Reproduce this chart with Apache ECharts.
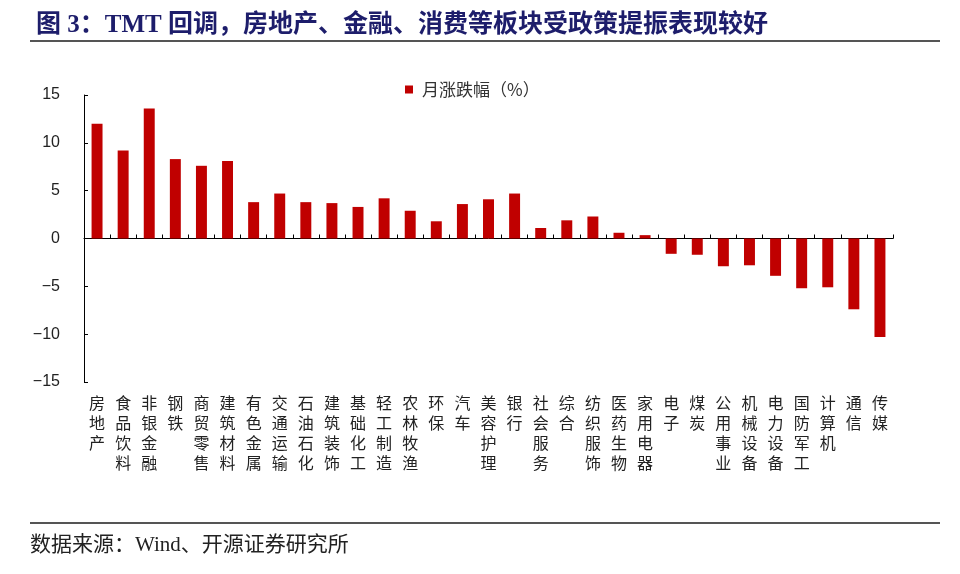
<!DOCTYPE html>
<html>
<head>
<meta charset="utf-8">
<script src="https://cdn.jsdelivr.net/npm/echarts@6/dist/echarts.min.js"></script>
<style>
  html, body { margin: 0; padding: 0; background: #fff; }
  #main { width: 960px; height: 574px; }
</style>
</head>
<body>
<div id="main"></div>
<script>
// 行业名称
var industries = [
  "房地产", "食品饮料", "非银金融", "钢铁", "商贸零售", "建筑材料", "有色金属",
  "交通运输", "石油石化", "建筑装饰", "基础化工", "轻工制造", "农林牧渔", "环保",
  "汽车", "美容护理", "银行", "社会服务", "综合", "纺织服饰", "医药生物",
  "家用电器", "电子", "煤炭", "公用事业", "机械设备", "电力设备", "国防军工",
  "计算机", "通信", "传媒"
];
// 月涨跌幅（%）
var monthChange = [
  12.0, 9.2, 13.6, 8.3, 7.6, 8.1, 3.8,
  4.7, 3.8, 3.7, 3.3, 4.2, 2.9, 1.8,
  3.6, 4.1, 4.7, 1.1, 1.9, 2.3, 0.6,
  0.35, -1.6, -1.7, -2.9, -2.8, -3.9, -5.2,
  -5.1, -7.4, -10.3
];
var yTicks = { min: -15, max: 15, step: 5 };

var chart = echarts.init(document.getElementById("main"));

var option = {
  backgroundColor: "#fff",
  animation: false,
  title: {
    text: "图 3：TMT 回调，房地产、金融、消费等板块受政策提振表现较好",
    left: 31,
    top: 8,
    textStyle: {
      fontFamily: "'Liberation Serif', 'Noto Sans CJK SC', serif",
      fontSize: 25,
      fontWeight: "bold",
      color: "#1d1d6b"
    }
  },
  legend: {
    data: ["月涨跌幅（%）"],
    left: 400,
    top: 76,
    itemWidth: 8,
    itemHeight: 8,
    icon: "rect",
    itemGap: 10,
    textStyle: {
      fontFamily: "'Noto Sans CJK SC', sans-serif",
      fontSize: 17,
      padding: [0, 0, 0, 4],
      color: "#333"
    }
  },
  grid: {
    left: 84,
    right: 67,
    top: 95,
    bottom: 192,
    containLabel: false
  },
  xAxis: [
    {
      // 零轴线 + 刻度
      type: "category",
      data: industries,
      position: "top",
      axisLine: { show: true, onZero: true, lineStyle: { color: "#000", width: 1 } },
      axisTick: { show: true, interval: 0, inside: false, length: 4, lineStyle: { color: "#000" } },
      axisLabel: { show: false, interval: 0 }
    },
    {
      // 底部行业标签
      type: "category",
      data: industries,
      position: "bottom",
      axisLine: { show: false, onZero: false },
      axisTick: { show: false },
      axisLabel: {
        show: true,
        interval: 0,
        margin: 11,
        lineHeight: 20,
        fontFamily: "'Noto Sans CJK SC', serif",
        fontSize: 16,
        color: "#222",
        verticalAlign: "top",
        formatter: function (v) { return v.split("").join("\n"); }
      }
    }
  ],
  yAxis: {
    type: "value",
    min: yTicks.min,
    max: yTicks.max,
    interval: yTicks.step,
    axisLine: { show: true, lineStyle: { color: "#000", width: 1 } },
    axisTick: { show: true, inside: true, length: 4, lineStyle: { color: "#000" } },
    splitLine: { show: false },
    axisLabel: {
      margin: 24,
      fontFamily: "'Liberation Sans', Arial, sans-serif",
      fontSize: 16,
      color: "#222",
      formatter: function (v) { return String(v).replace("-", "\u2212"); }
    }
  },
  series: [
    {
      name: "月涨跌幅（%）",
      type: "bar",
      xAxisIndex: 0,
      data: monthChange,
      barWidth: "42%",
      itemStyle: { color: "#c00000" }
    }
  ],
  graphic: [
    {
      type: "line",
      shape: { x1: 30, y1: 41, x2: 940, y2: 41 },
      style: { stroke: "#555", lineWidth: 2 }
    },
    {
      type: "line",
      shape: { x1: 30, y1: 523, x2: 940, y2: 523 },
      style: { stroke: "#555", lineWidth: 2 }
    },
    {
      type: "text",
      left: 30,
      top: 535,
      style: {
        text: "数据来源：Wind、开源证券研究所",
        fontFamily: "'Liberation Serif', 'Noto Sans CJK SC', serif",
        fontSize: 21,
        fill: "#222"
      }
    }
  ]
};

chart.setOption(option);
</script>
</body>
</html>
